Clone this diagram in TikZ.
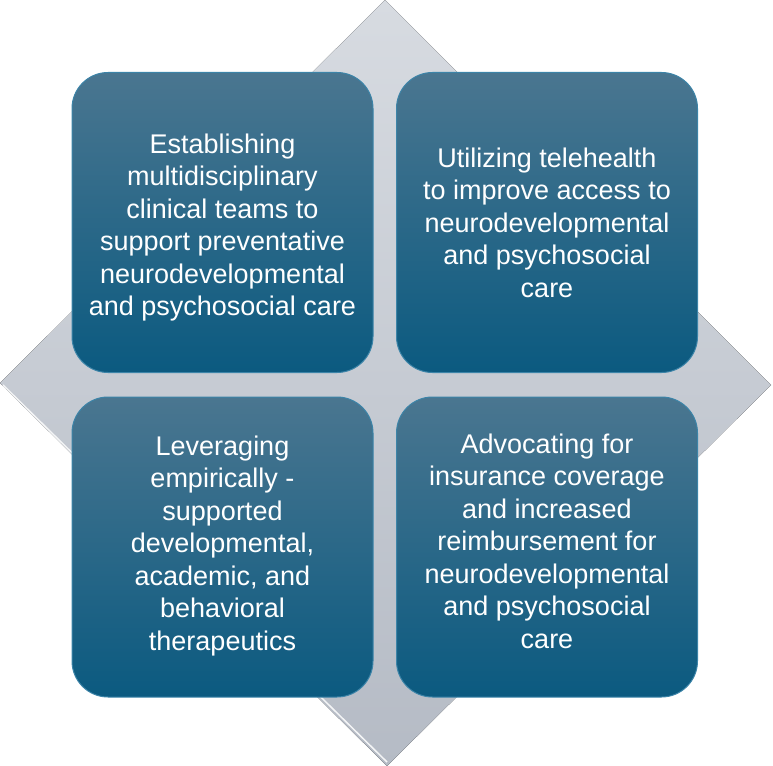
\documentclass[tikz,border=0pt]{standalone}
\usepackage{fontspec}
\setmainfont{Liberation Sans}
\usepackage{xcolor}
\definecolor{g1}{HTML}{D7DBE1}
\definecolor{g2}{HTML}{B5BBC5}
\definecolor{b1}{HTML}{4A7690}
\definecolor{b2}{HTML}{0B5A80}
\definecolor{rim}{HTML}{3C84A8}
\tikzstyle{quad}=[rectangle,rounded corners=36pt,minimum width=301pt,minimum height=300pt,
  top color=b1,bottom color=b2,draw=rim,line width=1pt]
\tikzstyle{quad text}=[text=white,align=center,font=\fontsize{27}{32.5}\selectfont,inner sep=0pt]

\begin{document}
\begin{tikzpicture}[x=1pt,y=-1pt]
  \useasboundingbox (0,0) rectangle (773,765);
  \def\a{222.5}
  \def\b{547}
  % backdrop
  \fill[top color=g1,bottom color=g2] (385,0) -- (771,385) -- (387,766) -- (0,383) -- cycle;
  \draw[white!85!g2,line width=1.5pt] (3,385) -- (387,762);
  % the four boxes
  \node[quad] (tl) at (\a,\a) {};
  \node[quad] (tr) at (\b,\a) {};
  \node[quad] (bl) at (\a,\b) {};
  \node[quad] (br) at (\b,\b) {};
  \node[quad text] (tl text) at ([yshift=-5pt]tl.center) {Establishing\\multidisciplinary\\clinical teams to\\support preventative\\neurodevelopmental\\and psychosocial care};
  \node[quad text] (tr text) at (tr.center) {Utilizing telehealth\\to improve access to\\neurodevelopmental\\and psychosocial\\care};
  \node[quad text] (bl text) at ([yshift=1pt]bl.center) {Leveraging\\empirically -\\supported\\developmental,\\academic, and\\behavioral\\therapeutics};
  \node[quad text] (br text) at ([yshift=6pt]br.center) {Advocating for\\insurance coverage\\and increased\\reimbursement for\\neurodevelopmental\\and psychosocial\\care};
\end{tikzpicture}
\end{document}
